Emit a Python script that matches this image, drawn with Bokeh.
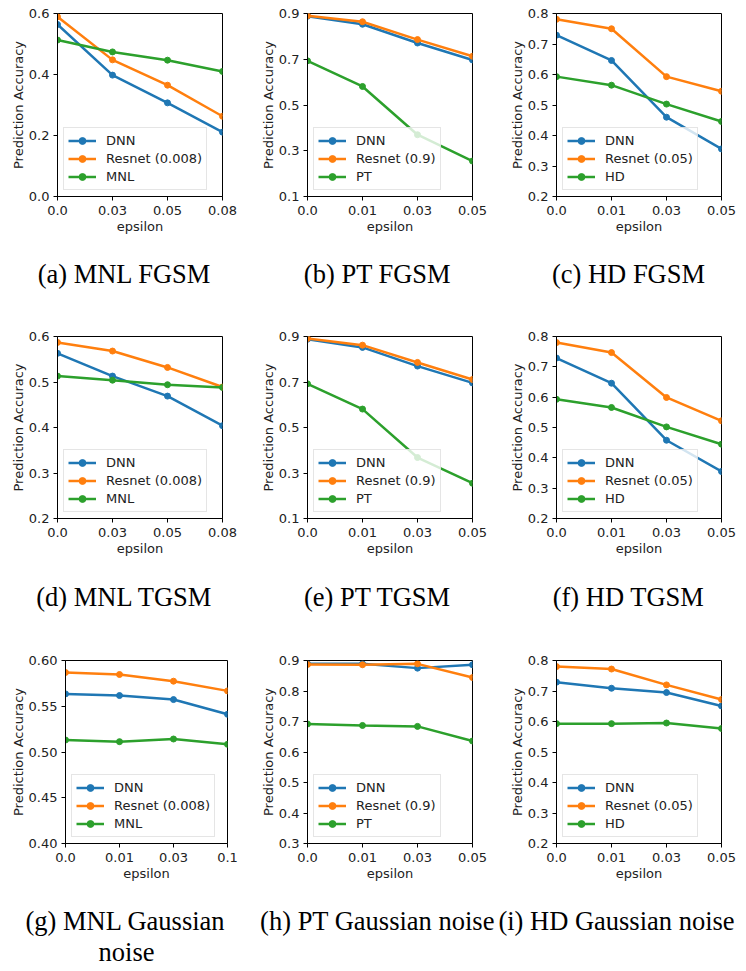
from bokeh.plotting import figure
from bokeh.models import Range1d, FixedTicker
from bokeh.layouts import column, row
from bokeh.core.properties import value
from bokeh.embed import file_html
from bokeh.resources import INLINE

# ---------------- data ----------------
eps_mnl = ["0.0", "0.03", "0.05", "0.08"]
eps_pt = ["0.0", "0.01", "0.03", "0.05"]
eps_hd = ["0.0", "0.01", "0.03", "0.05"]
eps_mnl_noise = ["0.0", "0.01", "0.03", "0.1"]

names_mnl = ["DNN", "Resnet (0.008)", "MNL"]
names_pt = ["DNN", "Resnet (0.9)", "PT"]
names_hd = ["DNN", "Resnet (0.05)", "HD"]

# (a) MNL FGSM
a_dnn = [0.564, 0.398, 0.307, 0.211]
a_res = [0.589, 0.448, 0.365, 0.263]
a_mnl = [0.513, 0.474, 0.447, 0.410]
# (b) PT FGSM
b_dnn = [0.888, 0.853, 0.771, 0.697]
b_res = [0.890, 0.864, 0.786, 0.713]
b_pt = [0.693, 0.581, 0.370, 0.255]
# (c) HD FGSM
c_dnn = [0.729, 0.646, 0.460, 0.356]
c_res = [0.781, 0.750, 0.593, 0.545]
c_hd = [0.593, 0.565, 0.503, 0.446]
# (d) MNL TGSM
d_dnn = [0.563, 0.513, 0.469, 0.404]
d_res = [0.587, 0.568, 0.532, 0.489]
d_mnl = [0.513, 0.504, 0.494, 0.488]
# (e) PT TGSM
e_dnn = [0.888, 0.852, 0.770, 0.696]
e_res = [0.891, 0.862, 0.786, 0.711]
e_pt = [0.692, 0.581, 0.368, 0.255]
# (f) HD TGSM
f_dnn = [0.729, 0.646, 0.458, 0.355]
f_res = [0.780, 0.747, 0.599, 0.522]
f_hd = [0.593, 0.566, 0.502, 0.445]
# (g) MNL Gaussian noise
g_dnn = [0.5635, 0.5617, 0.5573, 0.5412]
g_res = [0.5869, 0.5847, 0.5774, 0.5668]
g_mnl = [0.5131, 0.5113, 0.5142, 0.5084]
# (h) PT Gaussian noise
h_dnn = [0.889, 0.889, 0.875, 0.886]
h_res = [0.887, 0.886, 0.889, 0.844]
h_pt = [0.692, 0.687, 0.684, 0.636]
# (i) HD Gaussian noise
i_dnn = [0.729, 0.709, 0.695, 0.651]
i_res = [0.780, 0.772, 0.720, 0.672]
i_hd = [0.593, 0.593, 0.595, 0.577]

yt_a = [0.0, 0.2, 0.4, 0.6]
yl_a = ["0.0", "0.2", "0.4", "0.6"]
yt_pt = [0.1, 0.3, 0.5, 0.7, 0.9]
yl_pt = ["0.1", "0.3", "0.5", "0.7", "0.9"]
yt_hd = [0.2, 0.3, 0.4, 0.5, 0.6, 0.7, 0.8]
yl_hd = ["0.2", "0.3", "0.4", "0.5", "0.6", "0.7", "0.8"]
yt_d = [0.2, 0.3, 0.4, 0.5, 0.6]
yl_d = ["0.2", "0.3", "0.4", "0.5", "0.6"]
yt_g = [0.40, 0.45, 0.50, 0.55, 0.60]
yl_g = ["0.40", "0.45", "0.50", "0.55", "0.60"]
yt_h = [0.3, 0.4, 0.5, 0.6, 0.7, 0.8, 0.9]
yl_h = ["0.3", "0.4", "0.5", "0.6", "0.7", "0.8", "0.9"]

captions_1 = ["(a) MNL FGSM", "(b) PT FGSM", "(c) HD FGSM"]
captions_2 = ["(d) MNL TGSM", "(e) PT TGSM", "(f) HD TGSM"]
captions_3 = ["(g) MNL Gaussian", "noise", "(h) PT Gaussian noise", "(i) HD Gaussian noise"]

COLORS = ["#1f77b4", "#ff7f0e", "#2ca02c"]
SANS = "DejaVu Sans"
TXT = "#222222"


def panel(xlabels, yticks, ylabels, series, names, fw, fh, bl, br, bt, bb):
    xs = list(range(len(xlabels)))
    p = figure(frame_width=fw, frame_height=fh,
               min_border_left=bl, min_border_right=br,
               min_border_top=bt, min_border_bottom=bb,
               x_range=Range1d(xs[0], xs[-1]),
               y_range=Range1d(yticks[0], yticks[-1]),
               output_backend="svg", toolbar_location=None)
    p.xgrid.visible = False
    p.ygrid.visible = False
    p.outline_line_color = "black"
    p.outline_line_width = 1
    p.outline_line_alpha = 1
    for vals, nm, col in zip(series, names, COLORS):
        p.line(xs, vals, line_color=col, line_width=2.5, legend_label=nm)
        p.scatter(xs, vals, marker="circle", size=6, fill_color=col,
                  line_color=col, legend_label=nm)
    p.xaxis.ticker = FixedTicker(ticks=xs)
    p.xaxis.major_label_overrides = {x: l for x, l in zip(xs, xlabels)}
    p.yaxis.ticker = FixedTicker(ticks=yticks)
    p.yaxis.major_label_overrides = {y: l for y, l in zip(yticks, ylabels)}
    p.xaxis.axis_label = "epsilon"
    p.yaxis.axis_label = "Prediction Accuracy"
    for ax in (p.xaxis[0], p.yaxis[0]):
        ax.minor_tick_line_color = None
        ax.major_tick_out = 4
        ax.major_tick_in = 0
        ax.major_tick_line_color = "black"
        ax.axis_line_color = "black"
        ax.major_label_text_font = SANS
        ax.major_label_text_font_size = "13px"
        ax.major_label_text_color = TXT
        ax.axis_label_text_font = SANS
        ax.axis_label_text_font_size = "13px"
        ax.axis_label_text_font_style = "normal"
        ax.axis_label_text_color = TXT
    p.xaxis[0].major_label_standoff = 5
    p.xaxis[0].axis_label_standoff = 1
    p.yaxis[0].major_label_standoff = 4
    p.yaxis[0].axis_label_standoff = 0
    lg = p.legend[0]
    lg.location = "bottom_left"
    lg.margin = 6
    lg.padding = 4
    lg.spacing = 1
    lg.label_height = 17
    lg.glyph_height = 17
    lg.glyph_width = 28
    lg.label_standoff = 10
    lg.label_text_font = SANS
    lg.label_text_font_size = "13px"
    lg.label_text_color = TXT
    lg.border_line_color = "#cccccc"
    lg.border_line_width = 1
    lg.background_fill_color = "white"
    lg.background_fill_alpha = 0.8
    return p


def caption_fig(y0, y1, xs, ys, texts):
    c = figure(width=737, height=y1 - y0, x_range=Range1d(1, 738),
               y_range=Range1d(y1, y0), output_backend="svg",
               toolbar_location=None, min_border=0,
               x_axis_type=None, y_axis_type=None)
    c.outline_line_color = None
    c.grid.visible = False
    c.text(x=xs, y=ys, text=texts, text_font=value("Liberation Serif"),
           text_font_size="26.5px", text_align="center",
           text_baseline="middle", text_color="black")
    return c


pa = panel(eps_mnl, yt_a, yl_a, [a_dnn, a_res, a_mnl], names_mnl, 165, 183, 57, 27, 13, 43)
pb = panel(eps_pt, yt_pt, yl_pt, [b_dnn, b_res, b_pt], names_pt, 165, 183, 58, 23, 13, 43)
pc = panel(eps_hd, yt_hd, yl_hd, [c_dnn, c_res, c_hd], names_hd, 165, 183, 61, 16, 13, 43)

pd = panel(eps_mnl, yt_d, yl_d, [d_dnn, d_res, d_mnl], names_mnl, 165, 182, 57, 27, 19, 41)
pe = panel(eps_pt, yt_pt, yl_pt, [e_dnn, e_res, e_pt], names_pt, 165, 182, 58, 23, 19, 41)
pf = panel(eps_hd, yt_hd, yl_hd, [f_dnn, f_res, f_hd], names_hd, 165, 182, 61, 16, 19, 41)

pg = panel(eps_mnl_noise, yt_g, yl_g, [g_dnn, g_res, g_mnl], names_mnl, 162, 183, 65, 22, 24, 41)
ph = panel(eps_pt, yt_h, yl_h, [h_dnn, h_res, h_pt], names_pt, 165, 183, 58, 23, 24, 41)
pi = panel(eps_hd, yt_hd, yl_hd, [i_dnn, i_res, i_hd], names_hd, 165, 183, 61, 16, 24, 41)

cap1 = caption_fig(240, 318, [125, 378, 629], [274, 274, 274], captions_1)
cap2 = caption_fig(560, 637, [125, 378, 629], [597, 597, 597], captions_2)
cap3 = caption_fig(885, 968, [126, 127, 378, 617], [921, 952, 921, 921], captions_3)

layout = column(row(pa, pb, pc), cap1,
                row(pd, pe, pf), cap2,
                row(pg, ph, pi), cap3)

open("out.html", "w").write(file_html(layout, INLINE))
